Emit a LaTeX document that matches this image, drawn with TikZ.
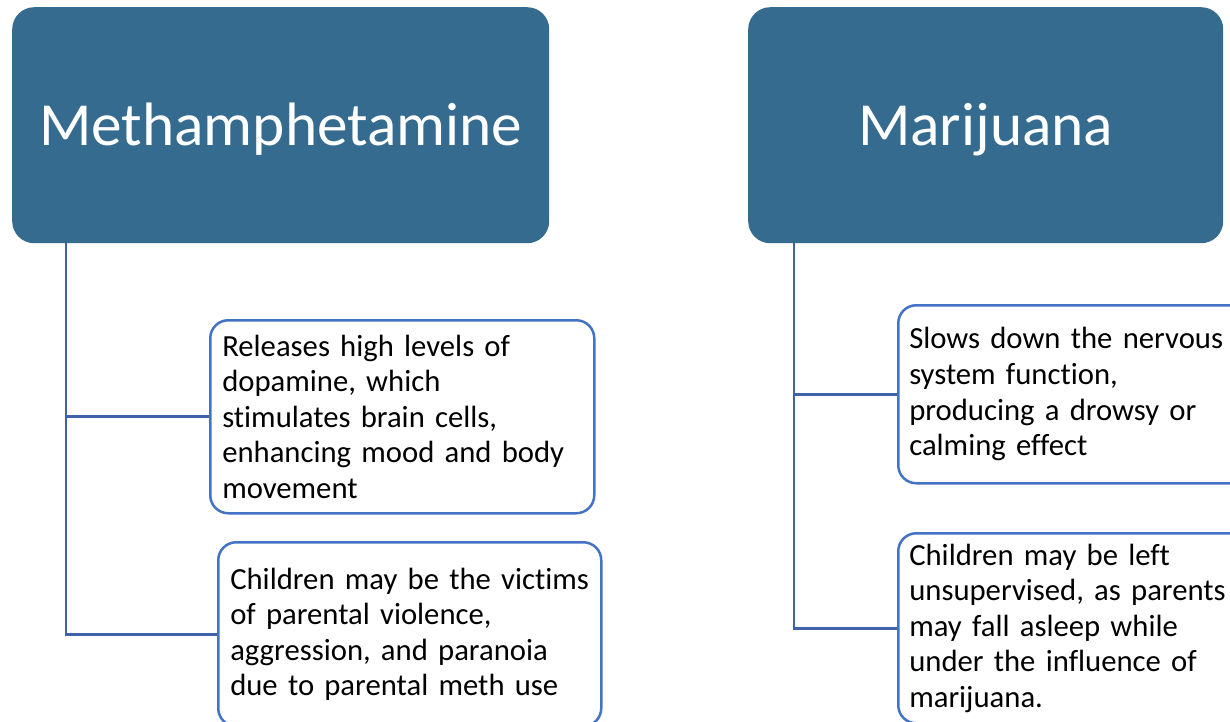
\documentclass[tikz,border=0pt]{standalone}
\usepackage{fontspec}
\setmainfont{Carlito}[Ligatures={NoCommon,NoRequired,NoContextual}]
\definecolor{headfill}{HTML}{356B8F}
\definecolor{boxline}{HTML}{4472C4}
\definecolor{connline}{HTML}{3F62AA}
\begin{document}
\begin{tikzpicture}[x=1pt,y=-1pt,
  header/.style={draw=none, fill=headfill, rounded corners=22pt, anchor=north west,
    text=white, font=\fontsize{61.3}{72}\selectfont, inner sep=0pt,
    text height=40pt, text depth=0pt},
  itembox/.style={draw=boxline, line width=2.5pt, rounded corners=18pt, fill=white,
    anchor=north west, align=left, inner xsep=12pt, inner ysep=0pt,
    font=\fontsize{30.7}{35.6}\selectfont},
  conn/.style={draw=connline, line width=2.6pt}]
\useasboundingbox (0,0) rectangle (1230,721);
\clip (0,0) rectangle (1230,721);
\node[header, minimum width=537pt, minimum height=236pt] (h1) at (12,7) {Methamphetamine};
\node[header, minimum width=475pt, minimum height=236pt] (h2) at (748,7) {Marijuana};
\node[itembox, text width=360pt, minimum height=193pt] (b1) at (209,319)
  {Releases high levels of\\dopamine, which\\stimulates brain cells,\\enhancing mood and body\\movement};
\node[itembox, text width=359pt, minimum height=184pt] (b2) at (217,541)
  {Children may be the victims\\of parental violence,\\aggression, and paranoia\\due to parental meth use};
\node[itembox, inner xsep=11pt, text width=380pt, minimum height=178pt] (b3) at (897,304)
  {Slows down the nervous\\system function,\\producing a drowsy or\\calming effect};
\node[itembox, inner xsep=11pt, text width=380pt, minimum height=190pt] (b4) at (897,532)
  {Children may be left\\unsupervised, as parents\\may fall asleep while\\under the influence of\\marijuana.};
\draw[conn] ([xshift=54pt]h1.south west) |- (b1.west);
\draw[conn] ([xshift=54pt]h1.south west) |- (b2.west);
\draw[conn] ([xshift=46pt]h2.south west) |- (b3.west);
\draw[conn] ([xshift=46pt]h2.south west) |- (b4.west);
\end{tikzpicture}
\end{document}
